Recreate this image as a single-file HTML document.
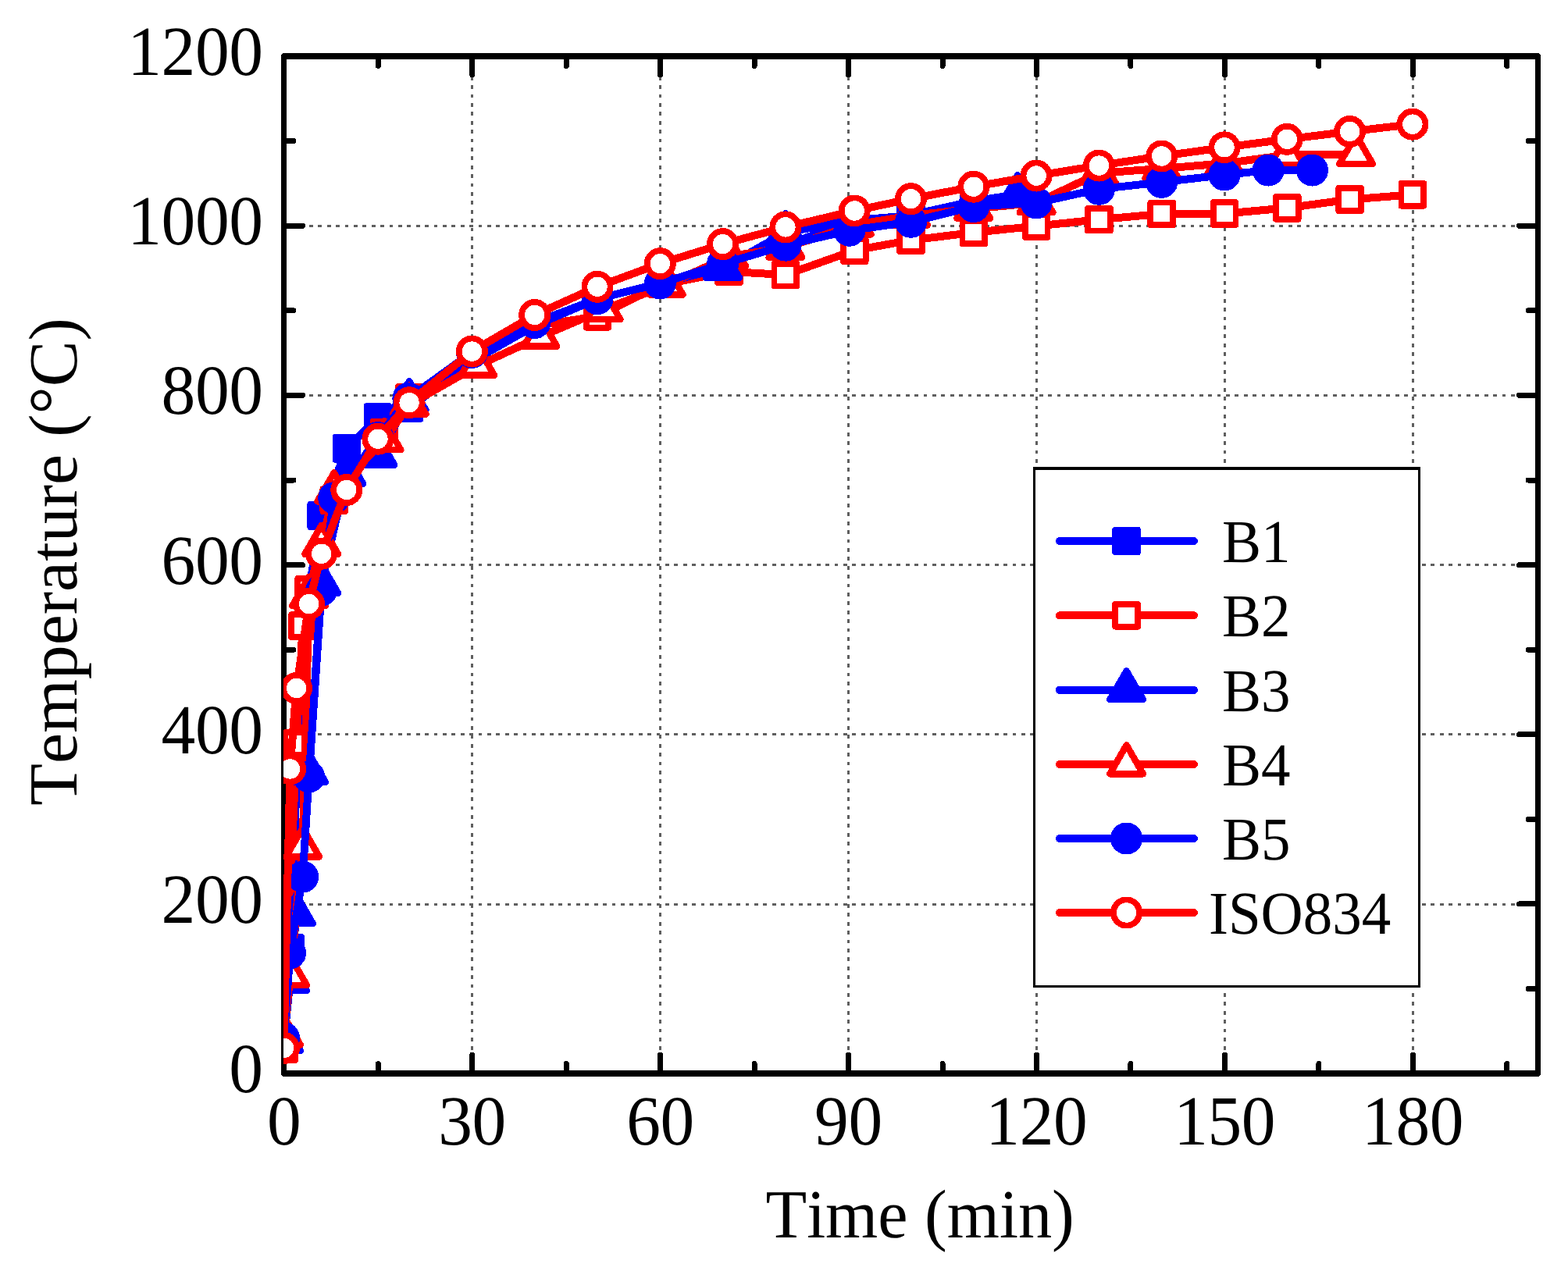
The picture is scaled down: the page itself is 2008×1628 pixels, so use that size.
<!DOCTYPE html>
<html lang="en"><head><meta charset="utf-8"><title>Temperature vs Time</title>
<style>
html,body{margin:0;padding:0;background:#fff;overflow:hidden;}
body{width:2008px;height:1628px;overflow:hidden;}
svg{display:block;}
text{font-family:"Liberation Serif",serif;fill:#000;font-kerning:none;font-variant-ligatures:none;text-rendering:geometricPrecision;}
.tk{font-size:87.5px;}
.dg{letter-spacing:-0.42px;}
.lg{font-size:75px;}
</style></head><body>
<svg width="2008" height="1628" viewBox="0 0 2008 1628" shape-rendering="crispEdges" role="img" aria-label="Temperature versus time curves for beams B1 to B5 and the ISO834 standard fire curve">
<rect width="2008" height="1628" fill="#fff"/>
<g stroke="#5f5f5f" stroke-width="3" stroke-dasharray="4.8 6.6" fill="none"><line x1="604.5" y1="72" x2="604.5" y2="1375" stroke-dashoffset="-2.9"/><line x1="845.4" y1="72" x2="845.4" y2="1375" stroke-dashoffset="-2.9"/><line x1="1086.3" y1="72" x2="1086.3" y2="1375" stroke-dashoffset="-2.9"/><line x1="1327.2" y1="72" x2="1327.2" y2="1375" stroke-dashoffset="-2.9"/><line x1="1568.1" y1="72" x2="1568.1" y2="1375" stroke-dashoffset="-2.9"/><line x1="1809" y1="72" x2="1809" y2="1375" stroke-dashoffset="-2.9"/><line x1="363.5" y1="1158.03" x2="1969.5" y2="1158.03" stroke-dashoffset="1.8"/><line x1="363.5" y1="940.87" x2="1969.5" y2="940.87" stroke-dashoffset="1.8"/><line x1="363.5" y1="723.7" x2="1969.5" y2="723.7" stroke-dashoffset="1.8"/><line x1="363.5" y1="506.53" x2="1969.5" y2="506.53" stroke-dashoffset="1.8"/><line x1="363.5" y1="289.37" x2="1969.5" y2="289.37" stroke-dashoffset="1.8"/></g>
<g stroke="#000" stroke-width="7" fill="none" stroke-linecap="round"><rect x="363.5" y="72" width="1606" height="1303" stroke-width="7.4" stroke-linejoin="round"/><line x1="484.35" y1="1375" x2="484.35" y2="1362.6"/><line x1="484.35" y1="72" x2="484.35" y2="84.4"/><line x1="604.8" y1="1375" x2="604.8" y2="1351"/><line x1="604.8" y1="72" x2="604.8" y2="96"/><line x1="725.25" y1="1375" x2="725.25" y2="1362.6"/><line x1="725.25" y1="72" x2="725.25" y2="84.4"/><line x1="845.7" y1="1375" x2="845.7" y2="1351"/><line x1="845.7" y1="72" x2="845.7" y2="96"/><line x1="966.15" y1="1375" x2="966.15" y2="1362.6"/><line x1="966.15" y1="72" x2="966.15" y2="84.4"/><line x1="1086.6" y1="1375" x2="1086.6" y2="1351"/><line x1="1086.6" y1="72" x2="1086.6" y2="96"/><line x1="1207.05" y1="1375" x2="1207.05" y2="1362.6"/><line x1="1207.05" y1="72" x2="1207.05" y2="84.4"/><line x1="1327.5" y1="1375" x2="1327.5" y2="1351"/><line x1="1327.5" y1="72" x2="1327.5" y2="96"/><line x1="1447.95" y1="1375" x2="1447.95" y2="1362.6"/><line x1="1447.95" y1="72" x2="1447.95" y2="84.4"/><line x1="1568.4" y1="1375" x2="1568.4" y2="1351"/><line x1="1568.4" y1="72" x2="1568.4" y2="96"/><line x1="1688.85" y1="1375" x2="1688.85" y2="1362.6"/><line x1="1688.85" y1="72" x2="1688.85" y2="84.4"/><line x1="1809.3" y1="1375" x2="1809.3" y2="1351"/><line x1="1809.3" y1="72" x2="1809.3" y2="96"/><line x1="1929.75" y1="1375" x2="1929.75" y2="1362.6"/><line x1="1929.75" y1="72" x2="1929.75" y2="84.4"/><line x1="363.5" y1="1266.52" x2="375.9" y2="1266.52"/><line x1="1969.5" y1="1266.52" x2="1957.1" y2="1266.52"/><line x1="363.5" y1="1157.93" x2="387.5" y2="1157.93"/><line x1="1969.5" y1="1157.93" x2="1945.5" y2="1157.93"/><line x1="363.5" y1="1049.35" x2="375.9" y2="1049.35"/><line x1="1969.5" y1="1049.35" x2="1957.1" y2="1049.35"/><line x1="363.5" y1="940.77" x2="387.5" y2="940.77"/><line x1="1969.5" y1="940.77" x2="1945.5" y2="940.77"/><line x1="363.5" y1="832.18" x2="375.9" y2="832.18"/><line x1="1969.5" y1="832.18" x2="1957.1" y2="832.18"/><line x1="363.5" y1="723.6" x2="387.5" y2="723.6"/><line x1="1969.5" y1="723.6" x2="1945.5" y2="723.6"/><line x1="363.5" y1="615.02" x2="375.9" y2="615.02"/><line x1="1969.5" y1="615.02" x2="1957.1" y2="615.02"/><line x1="363.5" y1="506.43" x2="387.5" y2="506.43"/><line x1="1969.5" y1="506.43" x2="1945.5" y2="506.43"/><line x1="363.5" y1="397.85" x2="375.9" y2="397.85"/><line x1="1969.5" y1="397.85" x2="1957.1" y2="397.85"/><line x1="363.5" y1="289.27" x2="387.5" y2="289.27"/><line x1="1969.5" y1="289.27" x2="1945.5" y2="289.27"/><line x1="363.5" y1="180.68" x2="375.9" y2="180.68"/><line x1="1969.5" y1="180.68" x2="1957.1" y2="180.68"/></g>
<defs><clipPath id="pc"><rect x="363" y="60" width="1612" height="1320"/></clipPath></defs>
<g clip-path="url(#pc)">
<g>
<polyline points="363.5,1337 371.53,1214.3 387.59,801.68 395.62,755.31 411.68,660.52 443.8,574.42 483.95,534.57 524.1,522.62 604.4,462.9 684.7,417.29 765,382.77 845.3,363 925.6,338.03 1005.9,314.14 1086.2,284.82 1166.5,275.38 1246.8,257.68 1303.01,248.99" fill="none" stroke="#0000ff" stroke-width="10" stroke-linejoin="round" stroke-linecap="round"/>
<rect x="349.1" y="1322.6" width="28.8" height="28.8" fill="#0000ff" stroke="#0000ff" stroke-width="7.8" stroke-linejoin="round"/>
<rect x="357.13" y="1199.9" width="28.8" height="28.8" fill="#0000ff" stroke="#0000ff" stroke-width="7.8" stroke-linejoin="round"/>
<rect x="373.19" y="787.28" width="28.8" height="28.8" fill="#0000ff" stroke="#0000ff" stroke-width="7.8" stroke-linejoin="round"/>
<rect x="381.22" y="740.91" width="28.8" height="28.8" fill="#0000ff" stroke="#0000ff" stroke-width="7.8" stroke-linejoin="round"/>
<rect x="397.28" y="646.12" width="28.8" height="28.8" fill="#0000ff" stroke="#0000ff" stroke-width="7.8" stroke-linejoin="round"/>
<rect x="429.4" y="560.02" width="28.8" height="28.8" fill="#0000ff" stroke="#0000ff" stroke-width="7.8" stroke-linejoin="round"/>
<rect x="469.55" y="520.17" width="28.8" height="28.8" fill="#0000ff" stroke="#0000ff" stroke-width="7.8" stroke-linejoin="round"/>
<rect x="509.7" y="508.22" width="28.8" height="28.8" fill="#0000ff" stroke="#0000ff" stroke-width="7.8" stroke-linejoin="round"/>
<rect x="1152.1" y="260.98" width="28.8" height="28.8" fill="#0000ff" stroke="#0000ff" stroke-width="7.8" stroke-linejoin="round"/>
<rect x="1232.4" y="243.28" width="28.8" height="28.8" fill="#0000ff" stroke="#0000ff" stroke-width="7.8" stroke-linejoin="round"/>
</g>
<g>
<polyline points="363.5,1343.51 379.56,952.61 387.59,801.68 395.62,755.31 427.74,640.65 491.98,554.11 524.1,509.59 604.4,462.9 684.7,417.29 765,405.35 845.3,365.17 933.63,347.8 1005.9,352.14 1094.23,320.66 1166.5,307.63 1246.8,297.85 1327.1,289.6 1407.4,281.13 1487.7,273.96 1568,273.64 1648.3,266.36 1728.6,255.51 1808.9,249.32" fill="none" stroke="#ff0000" stroke-width="10" stroke-linejoin="round" stroke-linecap="round"/>
<rect x="349.1" y="1329.11" width="28.8" height="28.8" fill="#fff" stroke="#ff0000" stroke-width="7.8" stroke-linejoin="round"/>
<rect x="365.16" y="938.21" width="28.8" height="28.8" fill="#fff" stroke="#ff0000" stroke-width="7.8" stroke-linejoin="round"/>
<rect x="373.19" y="787.28" width="28.8" height="28.8" fill="#fff" stroke="#ff0000" stroke-width="7.8" stroke-linejoin="round"/>
<rect x="381.22" y="740.91" width="28.8" height="28.8" fill="#fff" stroke="#ff0000" stroke-width="7.8" stroke-linejoin="round"/>
<rect x="413.34" y="626.25" width="28.8" height="28.8" fill="#fff" stroke="#ff0000" stroke-width="7.8" stroke-linejoin="round"/>
<rect x="477.58" y="539.71" width="28.8" height="28.8" fill="#fff" stroke="#ff0000" stroke-width="7.8" stroke-linejoin="round"/>
<rect x="509.7" y="495.19" width="28.8" height="28.8" fill="#fff" stroke="#ff0000" stroke-width="7.8" stroke-linejoin="round"/>
<rect x="750.6" y="390.95" width="28.8" height="28.8" fill="#fff" stroke="#ff0000" stroke-width="7.8" stroke-linejoin="round"/>
<rect x="919.23" y="333.4" width="28.8" height="28.8" fill="#fff" stroke="#ff0000" stroke-width="7.8" stroke-linejoin="round"/>
<rect x="991.5" y="337.75" width="28.8" height="28.8" fill="#fff" stroke="#ff0000" stroke-width="7.8" stroke-linejoin="round"/>
<rect x="1079.83" y="306.26" width="28.8" height="28.8" fill="#fff" stroke="#ff0000" stroke-width="7.8" stroke-linejoin="round"/>
<rect x="1152.1" y="293.23" width="28.8" height="28.8" fill="#fff" stroke="#ff0000" stroke-width="7.8" stroke-linejoin="round"/>
<rect x="1232.4" y="283.45" width="28.8" height="28.8" fill="#fff" stroke="#ff0000" stroke-width="7.8" stroke-linejoin="round"/>
<rect x="1312.7" y="275.2" width="28.8" height="28.8" fill="#fff" stroke="#ff0000" stroke-width="7.8" stroke-linejoin="round"/>
<rect x="1393" y="266.73" width="28.8" height="28.8" fill="#fff" stroke="#ff0000" stroke-width="7.8" stroke-linejoin="round"/>
<rect x="1473.3" y="259.56" width="28.8" height="28.8" fill="#fff" stroke="#ff0000" stroke-width="7.8" stroke-linejoin="round"/>
<rect x="1553.6" y="259.24" width="28.8" height="28.8" fill="#fff" stroke="#ff0000" stroke-width="7.8" stroke-linejoin="round"/>
<rect x="1633.9" y="251.96" width="28.8" height="28.8" fill="#fff" stroke="#ff0000" stroke-width="7.8" stroke-linejoin="round"/>
<rect x="1714.2" y="241.11" width="28.8" height="28.8" fill="#fff" stroke="#ff0000" stroke-width="7.8" stroke-linejoin="round"/>
<rect x="1794.5" y="234.92" width="28.8" height="28.8" fill="#fff" stroke="#ff0000" stroke-width="7.8" stroke-linejoin="round"/>
</g>
<g>
<polyline points="363.5,1333.74 371.53,1256.64 379.56,1170.86 395.62,989.53 411.68,747.39 443.8,607.32 483.95,583.43 524.1,512.85 604.4,462.9 684.7,417.29 765,382.77 845.3,363 925.6,343.46 1005.9,297.85 1086.2,282.65 1166.5,276.14 1246.8,259.85 1303.01,248.99" fill="none" stroke="#0000ff" stroke-width="10" stroke-linejoin="round" stroke-linecap="round"/>
<polygon points="363.5,1309.14 384.8,1346.04 342.2,1346.04" fill="#0000ff" stroke="#0000ff" stroke-width="8.5" stroke-linejoin="round"/>
<polygon points="371.53,1232.04 392.83,1268.94 350.23,1268.94" fill="#0000ff" stroke="#0000ff" stroke-width="8.5" stroke-linejoin="round"/>
<polygon points="379.56,1146.26 400.86,1183.16 358.26,1183.16" fill="#0000ff" stroke="#0000ff" stroke-width="8.5" stroke-linejoin="round"/>
<polygon points="395.62,964.93 416.92,1001.83 374.32,1001.83" fill="#0000ff" stroke="#0000ff" stroke-width="8.5" stroke-linejoin="round"/>
<polygon points="411.68,722.79 432.98,759.69 390.38,759.69" fill="#0000ff" stroke="#0000ff" stroke-width="8.5" stroke-linejoin="round"/>
<polygon points="443.8,582.72 465.1,619.62 422.5,619.62" fill="#0000ff" stroke="#0000ff" stroke-width="8.5" stroke-linejoin="round"/>
<polygon points="483.95,558.83 505.25,595.73 462.65,595.73" fill="#0000ff" stroke="#0000ff" stroke-width="8.5" stroke-linejoin="round"/>
<polygon points="524.1,488.25 545.4,525.15 502.8,525.15" fill="#0000ff" stroke="#0000ff" stroke-width="8.5" stroke-linejoin="round"/>
<polygon points="925.6,318.86 946.9,355.76 904.3,355.76" fill="#0000ff" stroke="#0000ff" stroke-width="8.5" stroke-linejoin="round"/>
<polygon points="1005.9,273.25 1027.2,310.15 984.6,310.15" fill="#0000ff" stroke="#0000ff" stroke-width="8.5" stroke-linejoin="round"/>
<polygon points="1303.01,224.39 1324.31,261.29 1281.71,261.29" fill="#0000ff" stroke="#0000ff" stroke-width="8.5" stroke-linejoin="round"/>
</g>
<g>
<polyline points="363.5,1326.14 371.53,1249.48 387.59,1085.08 395.62,763.68 411.68,697.44 427.74,630.12 491.98,563.88 524.1,518.28 611.63,468.33 691.93,431.41 773.03,396.66 853.33,365.17 933.63,328.26 1005.9,317.4 1094.23,288.08 1166.5,276.14 1246.8,267.45 1327.1,259.85 1407.4,221.85 1487.7,215.87 1568,209.36 1648.3,198.5 1736.63,197.63" fill="none" stroke="#ff0000" stroke-width="10" stroke-linejoin="round" stroke-linecap="round"/>
<polygon points="363.5,1301.54 384.8,1338.44 342.2,1338.44" fill="#fff" stroke="#ff0000" stroke-width="8.5" stroke-linejoin="round"/>
<polygon points="371.53,1224.88 392.83,1261.78 350.23,1261.78" fill="#fff" stroke="#ff0000" stroke-width="8.5" stroke-linejoin="round"/>
<polygon points="387.59,1060.48 408.89,1097.38 366.29,1097.38" fill="#fff" stroke="#ff0000" stroke-width="8.5" stroke-linejoin="round"/>
<polygon points="395.62,739.08 416.92,775.98 374.32,775.98" fill="#fff" stroke="#ff0000" stroke-width="8.5" stroke-linejoin="round"/>
<polygon points="411.68,672.84 432.98,709.74 390.38,709.74" fill="#fff" stroke="#ff0000" stroke-width="8.5" stroke-linejoin="round"/>
<polygon points="427.74,605.52 449.04,642.42 406.44,642.42" fill="#fff" stroke="#ff0000" stroke-width="8.5" stroke-linejoin="round"/>
<polygon points="491.98,539.28 513.28,576.18 470.68,576.18" fill="#fff" stroke="#ff0000" stroke-width="8.5" stroke-linejoin="round"/>
<polygon points="524.1,493.68 545.4,530.58 502.8,530.58" fill="#fff" stroke="#ff0000" stroke-width="8.5" stroke-linejoin="round"/>
<polygon points="611.63,443.73 632.93,480.63 590.32,480.63" fill="#fff" stroke="#ff0000" stroke-width="8.5" stroke-linejoin="round"/>
<polygon points="691.93,406.81 713.23,443.71 670.62,443.71" fill="#fff" stroke="#ff0000" stroke-width="8.5" stroke-linejoin="round"/>
<polygon points="773.03,372.06 794.33,408.96 751.73,408.96" fill="#fff" stroke="#ff0000" stroke-width="8.5" stroke-linejoin="round"/>
<polygon points="853.33,340.57 874.63,377.47 832.03,377.47" fill="#fff" stroke="#ff0000" stroke-width="8.5" stroke-linejoin="round"/>
<polygon points="933.63,303.66 954.93,340.56 912.33,340.56" fill="#fff" stroke="#ff0000" stroke-width="8.5" stroke-linejoin="round"/>
<polygon points="1005.9,292.8 1027.2,329.7 984.6,329.7" fill="#fff" stroke="#ff0000" stroke-width="8.5" stroke-linejoin="round"/>
<polygon points="1094.23,263.48 1115.53,300.38 1072.93,300.38" fill="#fff" stroke="#ff0000" stroke-width="8.5" stroke-linejoin="round"/>
<polygon points="1166.5,251.54 1187.8,288.44 1145.2,288.44" fill="#fff" stroke="#ff0000" stroke-width="8.5" stroke-linejoin="round"/>
<polygon points="1246.8,242.85 1268.1,279.75 1225.5,279.75" fill="#fff" stroke="#ff0000" stroke-width="8.5" stroke-linejoin="round"/>
<polygon points="1327.1,235.25 1348.4,272.15 1305.8,272.15" fill="#fff" stroke="#ff0000" stroke-width="8.5" stroke-linejoin="round"/>
<polygon points="1407.4,197.25 1428.7,234.15 1386.1,234.15" fill="#fff" stroke="#ff0000" stroke-width="8.5" stroke-linejoin="round"/>
<polygon points="1487.7,191.27 1509,228.17 1466.4,228.17" fill="#fff" stroke="#ff0000" stroke-width="8.5" stroke-linejoin="round"/>
<polygon points="1568,184.76 1589.3,221.66 1546.7,221.66" fill="#fff" stroke="#ff0000" stroke-width="8.5" stroke-linejoin="round"/>
<polygon points="1648.3,173.9 1669.6,210.8 1627,210.8" fill="#fff" stroke="#ff0000" stroke-width="8.5" stroke-linejoin="round"/>
<polygon points="1736.63,173.03 1757.93,209.93 1715.33,209.93" fill="#fff" stroke="#ff0000" stroke-width="8.5" stroke-linejoin="round"/>
</g>
<g>
<polyline points="363.5,1329.39 371.53,1220.81 387.59,1123.09 395.62,994.96 411.68,756.08 427.74,637.72 483.95,560.62 522.9,510.24 604.4,451.39 684.7,413.49 765,382.77 845.3,363 925.6,338.03 1005.9,314.14 1087.81,295.25 1166.5,284.28 1246.8,264.52 1327.1,259.85 1407.4,242.26 1487.7,233.35 1568,224.02 1624.21,218.04 1680.42,218.04" fill="none" stroke="#0000ff" stroke-width="10" stroke-linejoin="round" stroke-linecap="round"/>
<circle cx="363.5" cy="1329.39" r="16.6" fill="#0000ff" stroke="#0000ff" stroke-width="7.8" stroke-linejoin="round"/>
<circle cx="371.53" cy="1220.81" r="16.6" fill="#0000ff" stroke="#0000ff" stroke-width="7.8" stroke-linejoin="round"/>
<circle cx="387.59" cy="1123.09" r="16.6" fill="#0000ff" stroke="#0000ff" stroke-width="7.8" stroke-linejoin="round"/>
<circle cx="395.62" cy="994.96" r="16.6" fill="#0000ff" stroke="#0000ff" stroke-width="7.8" stroke-linejoin="round"/>
<circle cx="411.68" cy="756.08" r="16.6" fill="#0000ff" stroke="#0000ff" stroke-width="7.8" stroke-linejoin="round"/>
<circle cx="427.74" cy="637.72" r="16.6" fill="#0000ff" stroke="#0000ff" stroke-width="7.8" stroke-linejoin="round"/>
<circle cx="483.95" cy="560.62" r="16.6" fill="#0000ff" stroke="#0000ff" stroke-width="7.8" stroke-linejoin="round"/>
<circle cx="522.9" cy="510.24" r="16.6" fill="#0000ff" stroke="#0000ff" stroke-width="7.8" stroke-linejoin="round"/>
<circle cx="604.4" cy="451.39" r="16.6" fill="#0000ff" stroke="#0000ff" stroke-width="7.8" stroke-linejoin="round"/>
<circle cx="684.7" cy="413.49" r="16.6" fill="#0000ff" stroke="#0000ff" stroke-width="7.8" stroke-linejoin="round"/>
<circle cx="765" cy="382.77" r="16.6" fill="#0000ff" stroke="#0000ff" stroke-width="7.8" stroke-linejoin="round"/>
<circle cx="845.3" cy="363" r="16.6" fill="#0000ff" stroke="#0000ff" stroke-width="7.8" stroke-linejoin="round"/>
<circle cx="925.6" cy="338.03" r="16.6" fill="#0000ff" stroke="#0000ff" stroke-width="7.8" stroke-linejoin="round"/>
<circle cx="1005.9" cy="314.14" r="16.6" fill="#0000ff" stroke="#0000ff" stroke-width="7.8" stroke-linejoin="round"/>
<circle cx="1087.81" cy="295.25" r="16.6" fill="#0000ff" stroke="#0000ff" stroke-width="7.8" stroke-linejoin="round"/>
<circle cx="1166.5" cy="284.28" r="16.6" fill="#0000ff" stroke="#0000ff" stroke-width="7.8" stroke-linejoin="round"/>
<circle cx="1246.8" cy="264.52" r="16.6" fill="#0000ff" stroke="#0000ff" stroke-width="7.8" stroke-linejoin="round"/>
<circle cx="1327.1" cy="259.85" r="16.6" fill="#0000ff" stroke="#0000ff" stroke-width="7.8" stroke-linejoin="round"/>
<circle cx="1407.4" cy="242.26" r="16.6" fill="#0000ff" stroke="#0000ff" stroke-width="7.8" stroke-linejoin="round"/>
<circle cx="1487.7" cy="233.35" r="16.6" fill="#0000ff" stroke="#0000ff" stroke-width="7.8" stroke-linejoin="round"/>
<circle cx="1568" cy="224.02" r="16.6" fill="#0000ff" stroke="#0000ff" stroke-width="7.8" stroke-linejoin="round"/>
<circle cx="1624.21" cy="218.04" r="16.6" fill="#0000ff" stroke="#0000ff" stroke-width="7.8" stroke-linejoin="round"/>
<circle cx="1680.42" cy="218.04" r="16.6" fill="#0000ff" stroke="#0000ff" stroke-width="7.8" stroke-linejoin="round"/>
</g>
<g>
<polyline points="363.5,1342.42 371.53,984.95 379.56,881.48 395.62,773.57 411.68,709.26 443.8,627.48 483.95,562.19 524.1,515.72 604.4,450.09 684.7,403.46 765,367.25 845.3,337.66 925.6,312.63 1005.9,290.94 1094.23,270.01 1166.5,254.69 1246.8,239.2 1327.1,225.06 1407.4,212.05 1487.7,200 1568,188.79 1648.3,178.3 1728.6,168.44 1808.9,159.15" fill="none" stroke="#ff0000" stroke-width="10" stroke-linejoin="round" stroke-linecap="round"/>
<circle cx="363.5" cy="1342.42" r="16.6" fill="#fff" stroke="#ff0000" stroke-width="7.8" stroke-linejoin="round"/>
<circle cx="371.53" cy="984.95" r="16.6" fill="#fff" stroke="#ff0000" stroke-width="7.8" stroke-linejoin="round"/>
<circle cx="379.56" cy="881.48" r="16.6" fill="#fff" stroke="#ff0000" stroke-width="7.8" stroke-linejoin="round"/>
<circle cx="395.62" cy="773.57" r="16.6" fill="#fff" stroke="#ff0000" stroke-width="7.8" stroke-linejoin="round"/>
<circle cx="411.68" cy="709.26" r="16.6" fill="#fff" stroke="#ff0000" stroke-width="7.8" stroke-linejoin="round"/>
<circle cx="443.8" cy="627.48" r="16.6" fill="#fff" stroke="#ff0000" stroke-width="7.8" stroke-linejoin="round"/>
<circle cx="483.95" cy="562.19" r="16.6" fill="#fff" stroke="#ff0000" stroke-width="7.8" stroke-linejoin="round"/>
<circle cx="524.1" cy="515.72" r="16.6" fill="#fff" stroke="#ff0000" stroke-width="7.8" stroke-linejoin="round"/>
<circle cx="604.4" cy="450.09" r="16.6" fill="#fff" stroke="#ff0000" stroke-width="7.8" stroke-linejoin="round"/>
<circle cx="684.7" cy="403.46" r="16.6" fill="#fff" stroke="#ff0000" stroke-width="7.8" stroke-linejoin="round"/>
<circle cx="765" cy="367.25" r="16.6" fill="#fff" stroke="#ff0000" stroke-width="7.8" stroke-linejoin="round"/>
<circle cx="845.3" cy="337.66" r="16.6" fill="#fff" stroke="#ff0000" stroke-width="7.8" stroke-linejoin="round"/>
<circle cx="925.6" cy="312.63" r="16.6" fill="#fff" stroke="#ff0000" stroke-width="7.8" stroke-linejoin="round"/>
<circle cx="1005.9" cy="290.94" r="16.6" fill="#fff" stroke="#ff0000" stroke-width="7.8" stroke-linejoin="round"/>
<circle cx="1094.23" cy="270.01" r="16.6" fill="#fff" stroke="#ff0000" stroke-width="7.8" stroke-linejoin="round"/>
<circle cx="1166.5" cy="254.69" r="16.6" fill="#fff" stroke="#ff0000" stroke-width="7.8" stroke-linejoin="round"/>
<circle cx="1246.8" cy="239.2" r="16.6" fill="#fff" stroke="#ff0000" stroke-width="7.8" stroke-linejoin="round"/>
<circle cx="1327.1" cy="225.06" r="16.6" fill="#fff" stroke="#ff0000" stroke-width="7.8" stroke-linejoin="round"/>
<circle cx="1407.4" cy="212.05" r="16.6" fill="#fff" stroke="#ff0000" stroke-width="7.8" stroke-linejoin="round"/>
<circle cx="1487.7" cy="200" r="16.6" fill="#fff" stroke="#ff0000" stroke-width="7.8" stroke-linejoin="round"/>
<circle cx="1568" cy="188.79" r="16.6" fill="#fff" stroke="#ff0000" stroke-width="7.8" stroke-linejoin="round"/>
<circle cx="1648.3" cy="178.3" r="16.6" fill="#fff" stroke="#ff0000" stroke-width="7.8" stroke-linejoin="round"/>
<circle cx="1728.6" cy="168.44" r="16.6" fill="#fff" stroke="#ff0000" stroke-width="7.8" stroke-linejoin="round"/>
<circle cx="1808.9" cy="159.15" r="16.6" fill="#fff" stroke="#ff0000" stroke-width="7.8" stroke-linejoin="round"/>
</g>
</g>
<rect x="1324.65" y="599.95" width="492.7" height="663.3" fill="#fff" stroke="#000" stroke-width="3.3"/>
<line x1="1356.8" y1="693" x2="1528.9" y2="693" stroke="#0000ff" stroke-width="10" stroke-linecap="round"/>
<rect x="1428.2" y="678.6" width="28.8" height="28.8" fill="#0000ff" stroke="#0000ff" stroke-width="7.8" stroke-linejoin="round"/>
<text class="lg" text-anchor="start" transform="translate(1565 719.7) scale(1.0000 1.0400)">B1</text>
<line x1="1356.8" y1="788.3" x2="1528.9" y2="788.3" stroke="#ff0000" stroke-width="10" stroke-linecap="round"/>
<rect x="1428.2" y="773.9" width="28.8" height="28.8" fill="#fff" stroke="#ff0000" stroke-width="7.8" stroke-linejoin="round"/>
<text class="lg" text-anchor="start" transform="translate(1565 815) scale(1.0000 1.0400)">B2</text>
<line x1="1356.8" y1="883.9" x2="1528.9" y2="883.9" stroke="#0000ff" stroke-width="10" stroke-linecap="round"/>
<polygon points="1442.6,859.3 1463.9,896.2 1421.3,896.2" fill="#0000ff" stroke="#0000ff" stroke-width="8.5" stroke-linejoin="round"/>
<text class="lg" text-anchor="start" transform="translate(1565 910.6) scale(1.0000 1.0400)">B3</text>
<line x1="1356.8" y1="979" x2="1528.9" y2="979" stroke="#ff0000" stroke-width="10" stroke-linecap="round"/>
<polygon points="1442.6,954.4 1463.9,991.3 1421.3,991.3" fill="#fff" stroke="#ff0000" stroke-width="8.5" stroke-linejoin="round"/>
<text class="lg" text-anchor="start" transform="translate(1565 1005.7) scale(1.0000 1.0400)">B4</text>
<line x1="1356.8" y1="1074" x2="1528.9" y2="1074" stroke="#0000ff" stroke-width="10" stroke-linecap="round"/>
<circle cx="1442.6" cy="1074" r="16.6" fill="#0000ff" stroke="#0000ff" stroke-width="7.8" stroke-linejoin="round"/>
<text class="lg" text-anchor="start" transform="translate(1565 1100.7) scale(1.0000 1.0400)">B5</text>
<line x1="1356.8" y1="1169" x2="1528.9" y2="1169" stroke="#ff0000" stroke-width="10" stroke-linecap="round"/>
<circle cx="1442.6" cy="1169" r="16.6" fill="#fff" stroke="#ff0000" stroke-width="7.8" stroke-linejoin="round"/>
<text class="lg" text-anchor="start" transform="translate(1547.9 1195.7) scale(1.0000 1.0400)">ISO834</text>
<text class="tk dg" text-anchor="middle" transform="translate(363.7 1466.3) scale(1.0000 1.0300)">0</text>
<text class="tk dg" text-anchor="middle" transform="translate(604.6 1466.3) scale(1.0000 1.0300)">30</text>
<text class="tk dg" text-anchor="middle" transform="translate(845.5 1466.3) scale(1.0000 1.0300)">60</text>
<text class="tk dg" text-anchor="middle" transform="translate(1086.4 1466.3) scale(1.0000 1.0300)">90</text>
<text class="tk dg" text-anchor="middle" transform="translate(1327.3 1466.3) scale(1.0000 1.0300)">120</text>
<text class="tk dg" text-anchor="middle" transform="translate(1568.2 1466.3) scale(1.0000 1.0300)">150</text>
<text class="tk dg" text-anchor="middle" transform="translate(1809.1 1466.3) scale(1.0000 1.0300)">180</text>
<text class="tk dg" text-anchor="end" transform="translate(336.6 1399) scale(1.0000 1.0300)">0</text>
<text class="tk dg" text-anchor="end" transform="translate(336.6 1181.83) scale(1.0000 1.0300)">200</text>
<text class="tk dg" text-anchor="end" transform="translate(336.6 964.67) scale(1.0000 1.0300)">400</text>
<text class="tk dg" text-anchor="end" transform="translate(336.6 747.5) scale(1.0000 1.0300)">600</text>
<text class="tk dg" text-anchor="end" transform="translate(336.6 530.33) scale(1.0000 1.0300)">800</text>
<text class="tk dg" text-anchor="end" transform="translate(336.6 313.17) scale(1.0000 1.0300)">1000</text>
<text class="tk dg" text-anchor="end" transform="translate(336.6 96) scale(1.0000 1.0300)">1200</text>
<text class="tk" text-anchor="middle" transform="translate(1178.1 1585) scale(0.9860 1.0100)">Time (min)</text>
<text class="tk" text-anchor="middle" transform="translate(97.8 719.5) rotate(-90) scale(1.0065 1.0100)">Temperature (°C)</text>
</svg></body></html>
